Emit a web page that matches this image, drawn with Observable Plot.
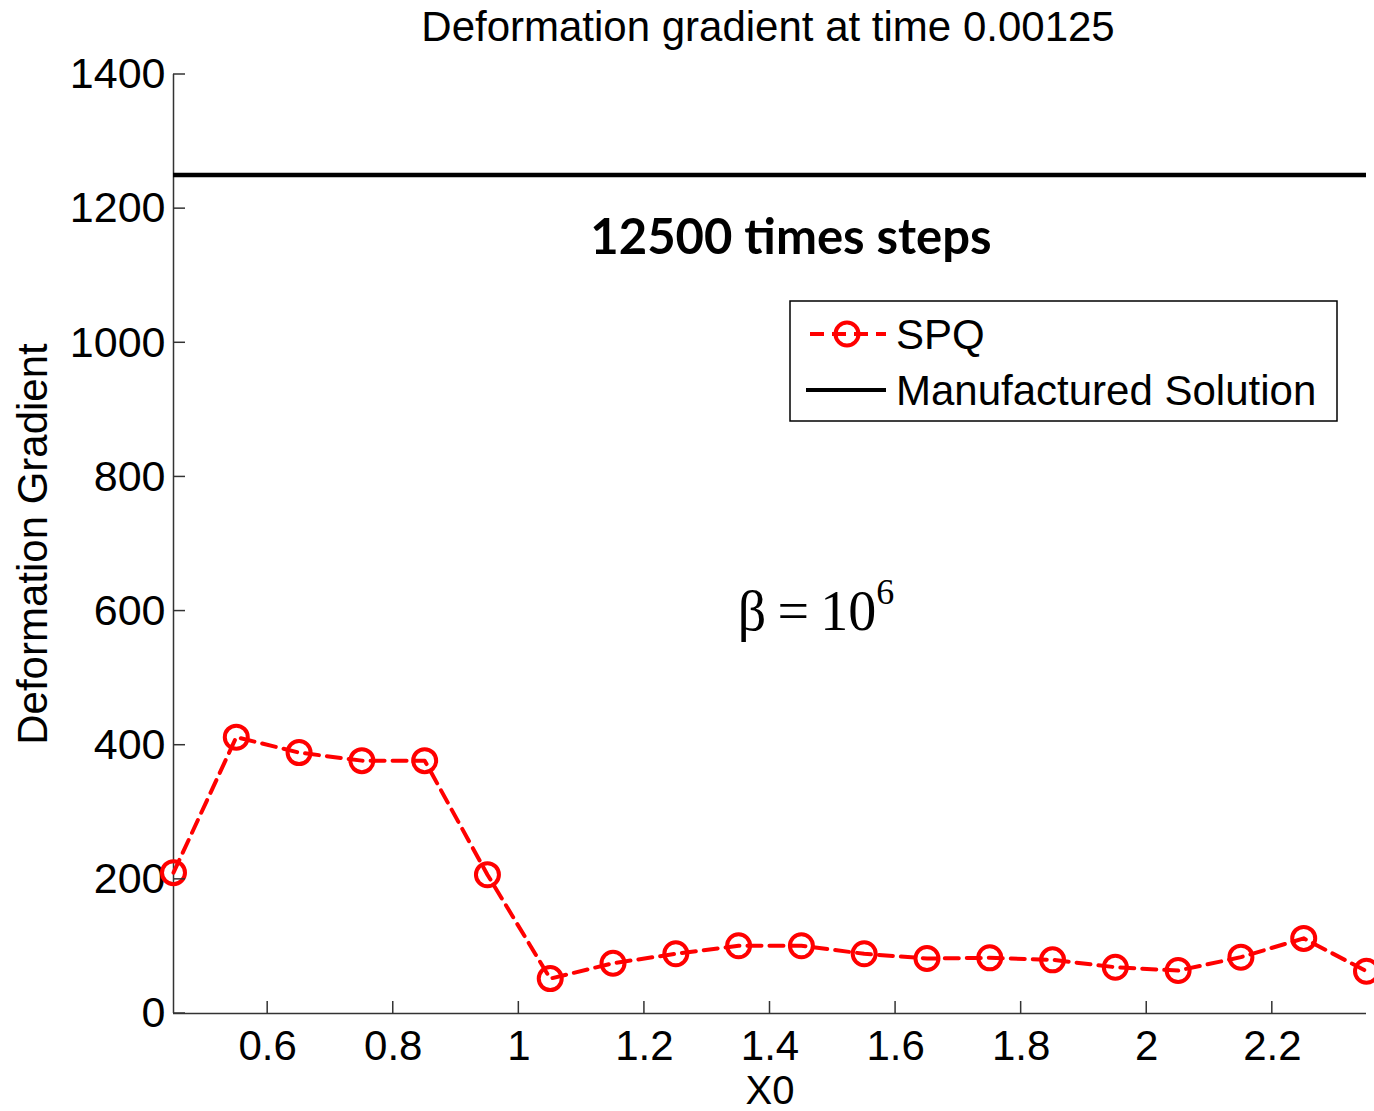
<!DOCTYPE html>
<html><head><meta charset="utf-8">
<script src="https://cdn.jsdelivr.net/npm/d3@7"></script>
<script src="https://cdn.jsdelivr.net/npm/@observablehq/plot@0.6"></script>
<style>body{margin:0;background:#fff} svg{display:block}</style>
</head><body><div id="chart"></div>
<script>
// ---- data ----
const x0 = [0.45,0.55,0.65,0.75,0.85,0.95,1.05,1.15,1.25,1.35,1.45,1.55,1.65,1.75,1.85,1.95,2.05,2.15,2.25,2.35];
const spq = [210,412,389,377,377,207,52,75,89,101,101,89,82,83,80,69,64,84,112,63];
const manufactured = [1250];
const xTicks = [0.6,0.8,1,1.2,1.4,1.6,1.8,2,2.2];
const xTickLabels = ["0.6","0.8","1","1.2","1.4","1.6","1.8","2","2.2"];
const yTicks = [0,200,400,600,800,1000,1200,1400];
const yTickLabels = ["0","200","400","600","800","1000","1200","1400"];
const titleText = ["Deformation gradient at time 0.00125"];
const xLabel = ["X0"];
const yLabel = ["Deformation Gradient"];
const stepsNote = ["12500 times steps"];
const seriesNames = ["SPQ","Manufactured Solution"];

const data = x0.map((x, i) => ({x, y: spq[i]}));
const axisColor = "#333";

const plot = Plot.plot({
  width: 1374, height: 1111,
  marginLeft: 173, marginRight: 8, marginTop: 74, marginBottom: 98,
  style: {fontFamily: "'Liberation Sans', Arial, sans-serif", fontSize: "42px", color: "#000", background: "#fff"},
  x: {domain: [0.45, 2.35]},
  y: {domain: [0, 1400]},
  marks: [
    Plot.axisX({ticks: xTicks, tickFormat: d => xTickLabels[xTicks.indexOf(d)], tickSize: 0, tickPadding: 17, label: null, fontSize: 42}),
    Plot.axisY({ticks: yTicks, tickFormat: d => yTickLabels[yTicks.indexOf(d)], tickSize: 0, tickPadding: 8, label: null, fontSize: 43}),
    Plot.ruleX([0.45], {stroke: axisColor, strokeWidth: 1.5}),
    Plot.ruleY([0], {stroke: axisColor, strokeWidth: 1.5}),
    Plot.ruleY(manufactured, {stroke: "#000", strokeWidth: 4.5}),
    Plot.line(data, {x: "x", y: "y", stroke: "#ff0000", strokeWidth: 4, strokeDasharray: "14,8"}),
    Plot.dot(data, {x: "x", y: "y", r: 11.5, stroke: "#ff0000", strokeWidth: 4, fill: "none"}),
    Plot.text(titleText, {text: d => d, frameAnchor: "top", dy: -47, dx: -2, lineAnchor: "middle", fontSize: 42}),
    Plot.text(xLabel, {text: d => d, frameAnchor: "bottom", dy: 78, lineAnchor: "middle", fontSize: 40}),
    Plot.text(yLabel, {text: d => d, frameAnchor: "left", dx: -140, rotate: -90, textAnchor: "middle", lineAnchor: "middle", fontSize: 42}),
    Plot.text(stepsNote, {text: d => d, frameAnchor: "top", dx: 21, dy: 164, lineAnchor: "middle", fontSize: 49, fontWeight: "bold", fontFamily: "Lato, 'Open Sans', sans-serif"})
  ]
});
document.getElementById("chart").appendChild(plot);

const svg = d3.select(plot);
const sx = plot.scale("x"), sy = plot.scale("y");
const xl = sx.apply(0.45), yb = sy.apply(0);
// inward ticks
const g = svg.append("g").attr("stroke", axisColor).attr("stroke-width", 1.5);
yTicks.forEach(t => g.append("line").attr("x1", xl).attr("x2", xl + 12).attr("y1", sy.apply(t)).attr("y2", sy.apply(t)));
xTicks.forEach(t => g.append("line").attr("x1", sx.apply(t)).attr("x2", sx.apply(t)).attr("y1", yb).attr("y2", yb - 12));

// beta annotation
const beta = svg.append("text")
  .attr("x", sx.apply(1.474)).attr("y", sy.apply(571))
  .attr("text-anchor", "middle")
  .attr("font-family", "'Liberation Serif', 'Times New Roman', serif")
  .attr("font-size", 56);
beta.append("tspan").text("β\u2009=\u200910");
beta.append("tspan").attr("dy", -26).attr("font-size", 36).text("6");

// legend
const lg = svg.append("g").attr("text-anchor", "start");
lg.append("rect").attr("x", 790).attr("y", 301).attr("width", 547).attr("height", 120)
  .attr("fill", "#fff").attr("stroke", "#000").attr("stroke-width", 1.5);
lg.append("line").attr("x1", 810).attr("x2", 886).attr("y1", 334).attr("y2", 334)
  .attr("stroke", "#ff0000").attr("stroke-width", 4).attr("stroke-dasharray", "14,8");
lg.append("circle").attr("cx", 847).attr("cy", 334).attr("r", 11.5)
  .attr("fill", "none").attr("stroke", "#ff0000").attr("stroke-width", 4);
lg.append("line").attr("x1", 806).attr("x2", 886).attr("y1", 390).attr("y2", 390)
  .attr("stroke", "#000").attr("stroke-width", 4);
lg.selectAll("text.lab").data(seriesNames).join("text").attr("class", "lab")
  .attr("x", 896).attr("y", (d, i) => 334 + i * 56).attr("dy", "0.35em")
  .attr("text-anchor", "start")
  .attr("font-size", 42).attr("fill", "#000").text(d => d);
</script>
</body></html>
